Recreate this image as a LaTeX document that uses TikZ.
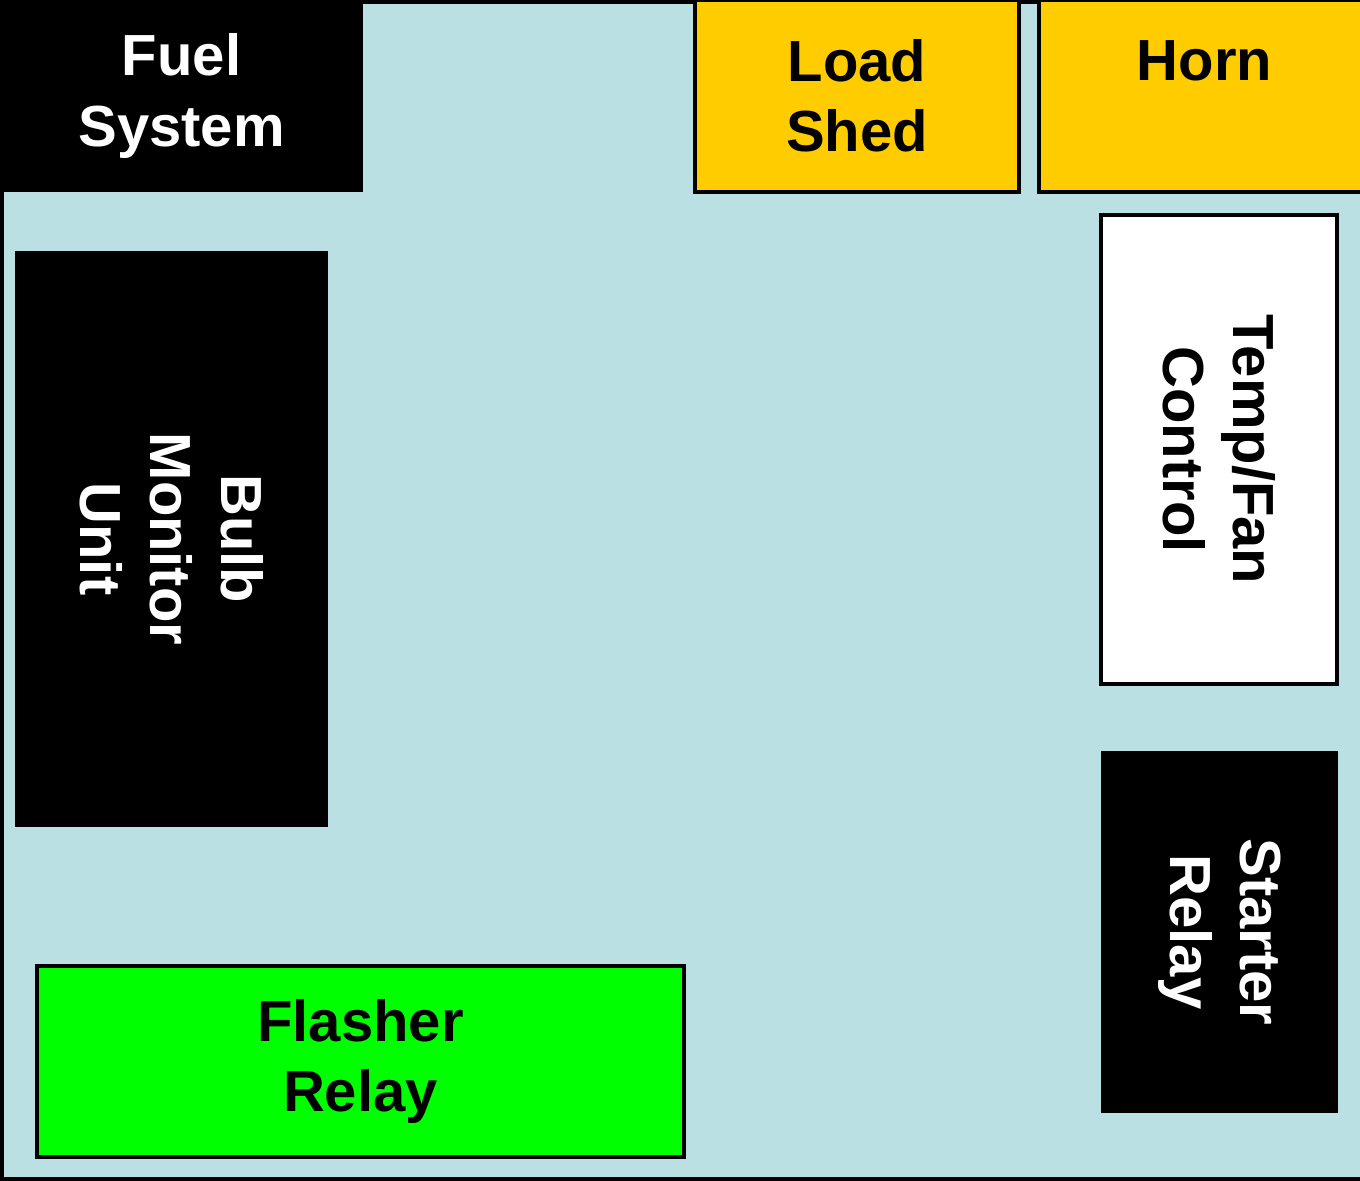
\documentclass[tikz,border=0pt]{standalone}
\usepackage{fontspec}
\setmainfont{Liberation Sans}
\usetikzlibrary{positioning}
\definecolor{panelblue}{HTML}{BBE0E3}
\definecolor{shedyellow}{HTML}{FFCC00}
\definecolor{flashgreen}{HTML}{00FF00}

\begin{document}
\begin{tikzpicture}[
  box/.style={rectangle, inner sep=0pt, align=center, font=\fontsize{16.5}{20}\selectfont\bfseries},
  dark/.style={box, fill=black, text=white},
  lit/.style={box, draw=black, line width=0.045cm}]
  \useasboundingbox (0,0) rectangle (13.6,11.81);
  \clip (0,0) rectangle (13.6,11.81);
  % panel background and frame
  \fill[panelblue] (0,0) rectangle (13.6,11.81);
  \draw[line width=0.08cm] (13.7,11.81) -- (0,11.81) -- (0,0) -- (13.7,0);
  % top row
  \node[dark, minimum width=3.63cm, minimum height=1.92cm] (fuel) at (1.815,10.85) {Fuel\\System};
  \node[lit, fill=shedyellow, minimum width=3.24cm, minimum height=1.92cm] (loadshed) at (8.57,10.85) {Load\\Shed};
  \node[lit, fill=shedyellow, minimum width=3.31cm, minimum height=1.92cm] (horn) at (12.045,10.85) {Horn\\\mbox{}};
  % side modules
  \node[dark, rotate=-90, minimum width=5.76cm, minimum height=3.13cm] (bulbmon) at (1.715,6.42) {Bulb\\Monitor\\Unit};
  \node[lit, fill=white, rotate=-90, minimum width=4.69cm, minimum height=2.36cm] (tempfan) at (12.19,7.315) {Temp/Fan\\Control};
  \node[dark, rotate=-90, minimum width=3.62cm, minimum height=2.37cm] (starter) at (12.195,2.49) {Starter\\Relay};
  % bottom
  \node[lit, fill=flashgreen, minimum width=6.47cm, minimum height=1.91cm] (flasher) at (3.605,1.195) {Flasher\\Relay};
\end{tikzpicture}
\end{document}
